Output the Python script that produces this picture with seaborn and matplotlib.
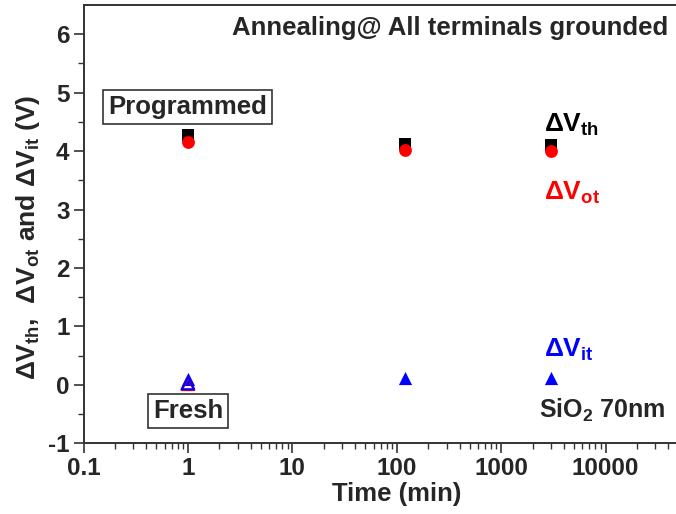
import matplotlib
matplotlib.use("Agg")
import matplotlib.pyplot as plt
import seaborn as sns
import pandas as pd
import numpy as np

# ---- data ----
time_min = [1, 120, 3000]
dvth = [4.27, 4.12, 4.11]
dvot = [4.15, 4.02, 4.01]
dvit = [0.10, 0.12, 0.12]
fresh_time = [1]
fresh_dvot = [0.02]
fresh_dvit = [0.03]

sns.set_theme(style="white")
plt.rcParams['font.family'] = ['Liberation Sans', 'DejaVu Sans']
plt.rcParams['font.weight'] = 'bold'
plt.rcParams['axes.unicode_minus'] = False
plt.rcParams['mathtext.fontset'] = 'custom'
plt.rcParams['mathtext.rm'] = 'Liberation Sans:bold'
plt.rcParams['mathtext.bf'] = 'Liberation Sans:bold'
plt.rcParams['mathtext.it'] = 'Liberation Sans:bold'
plt.rcParams['mathtext.default'] = 'bf'

fig = plt.figure(figsize=(6.76, 5.14), dpi=100)
W, H = 676, 514
x0, xr = 83.5, 104.4 * 6
ytop, ybot = 5, 443.3
ax = fig.add_axes([x0 / W, (H - ybot) / H, xr / W, (ybot - ytop) / H])

df = pd.DataFrame({"t": time_min, "vth": dvth, "vot": dvot, "vit": dvit})
dff = pd.DataFrame({"t": fresh_time, "vot": fresh_dvot, "vit": fresh_dvit})

sns.scatterplot(data=df, x="t", y="vth", marker="s", color="black", s=80,
                edgecolor="black", linewidth=0, ax=ax, zorder=3)
sns.scatterplot(data=df, x="t", y="vot", marker="o", color="red", s=85,
                edgecolor="red", linewidth=0, ax=ax, zorder=4)
sns.scatterplot(data=df, x="t", y="vit", marker="^", color="blue", s=90,
                edgecolor="blue", linewidth=0, ax=ax, zorder=4)
ax.scatter(dff["t"], dff["vot"], marker="^", s=80, facecolor="none",
           edgecolor="red", linewidth=1.8, zorder=5)
ax.scatter(dff["t"], dff["vit"], marker="^", s=80, facecolor="none",
           edgecolor="blue", linewidth=1.5, zorder=5)

ax.set_xscale("log")
ax.set_xlim(0.1, 1e5)
ax.set_ylim(-1, 6.5)
ax.set_yticks([-1, 0, 1, 2, 3, 4, 5, 6])
ax.set_yticklabels(["-1", "0", "1", "2", "3", "4", "5", "6"])
ax.set_yticks(np.arange(-0.5, 6.5, 1.0), minor=True)
ax.set_xticks([0.1, 1, 10, 100, 1000, 10000])
ax.set_xticklabels(["0.1", "1", "10", "100", "1000", "10000"])
ax.xaxis.set_minor_locator(matplotlib.ticker.LogLocator(base=10, subs=np.arange(2, 10), numticks=20))
ax.xaxis.set_minor_formatter(matplotlib.ticker.NullFormatter())

for sp in ax.spines.values():
    sp.set_color("#333333")
    sp.set_linewidth(1.4)
ax.tick_params(axis="both", which="major", direction="out", length=7, width=1.2,
               color="#333333", labelsize=17.5, pad=3, bottom=True, left=True)
ax.tick_params(axis="both", which="minor", direction="out", length=4, width=1.0,
               color="#333333", bottom=True, left=True)
for lab in ax.get_xticklabels() + ax.get_yticklabels():
    lab.set_fontweight("bold")

ax.set_xlabel("Time (min)", fontsize=18.5, fontweight="bold", labelpad=1)
ax.set_ylabel("ΔV$_{th}$,  ΔV$_{ot}$ and ΔV$_{it}$ (V)", fontsize=19,
              fontweight="bold")
ax.yaxis.set_label_coords(-0.066, 0.47)

ax.text(39800, 6.11, "Annealing@ All terminals grounded", fontsize=18.5,
        fontweight="bold", ha="right", va="center")
box = dict(boxstyle="square,pad=0.2", facecolor="white", edgecolor="#333333", linewidth=1.2)
ax.text(1, 4.76, "Programmed", fontsize=18.5, fontweight="bold", ha="center",
        va="center", bbox=box)
ax.text(1, -0.45, "Fresh", fontsize=18.5, fontweight="bold", ha="center",
        va="center", bbox=box)
ax.text(2600, 4.45, "ΔV$_{th}$", fontsize=19, fontweight="bold", color="black",
        ha="left", va="center")
ax.text(2600, 3.28, "ΔV$_{ot}$", fontsize=19, fontweight="bold", color="red",
        ha="left", va="center")
ax.text(2600, 0.60, "ΔV$_{it}$", fontsize=19, fontweight="bold", color="blue",
        ha="left", va="center")
ax.text(2300, -0.43, "SiO$_{2}$ 70nm", fontsize=18, fontweight="bold",
        ha="left", va="center")

fig.savefig("out.png", dpi=100)
